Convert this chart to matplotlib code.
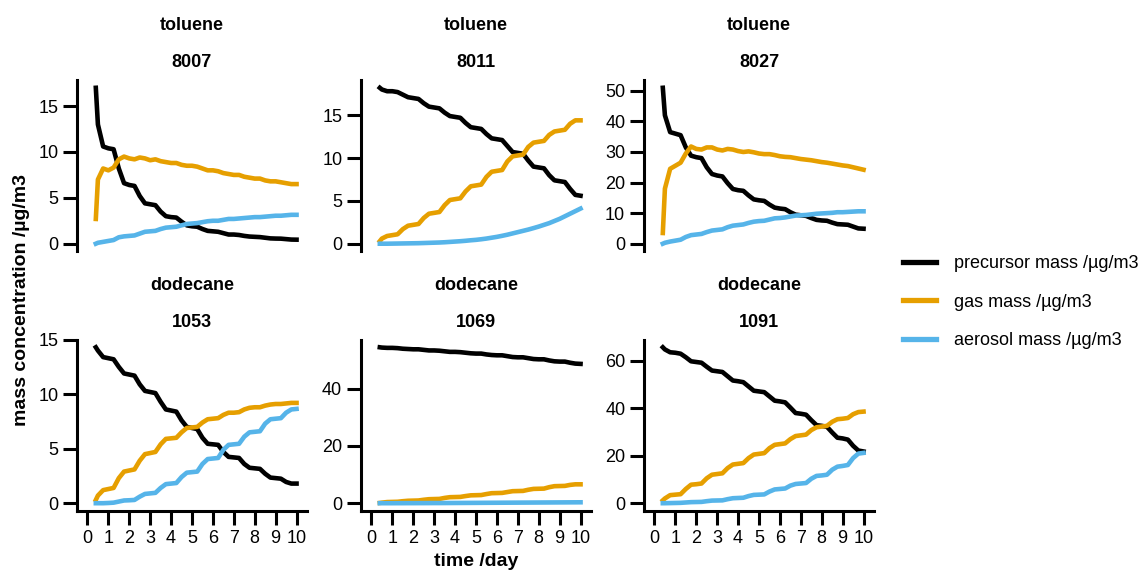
import numpy as np
import matplotlib
matplotlib.use("Agg")
from matplotlib import pyplot as plt
from matplotlib.lines import Line2D
from matplotlib.ticker import MultipleLocator

plt.rcParams["font.family"] = ["Liberation Sans", "DejaVu Sans"]

# time grid shared by every run: 0.4 d, then every 6 h from 0.5 d to 10 d
time_day = np.concatenate([[0.4], np.arange(0.5, 10.01, 0.25)])

compounds = ["toluene", "toluene", "toluene", "dodecane", "dodecane", "dodecane"]
run_ids = ["8007", "8011", "8027", "1053", "1069", "1091"]
series_labels = ["precursor mass /µg/m3", "gas mass /µg/m3", "aerosol mass /µg/m3"]

# toluene 8007
precursor_8007 = [17.0, 13.0, 10.6,
                  10.4, 10.3, 8.2, 6.6, 6.4, 6.3, 5.2, 4.4, 4.3, 4.2, 3.5, 3.0,
                  2.9, 2.85, 2.4, 2.0, 1.9, 1.85, 1.6, 1.4, 1.35, 1.3, 1.15, 1.0,
                  1.0, 0.95, 0.85, 0.78, 0.75, 0.72, 0.65, 0.58, 0.56, 0.55, 0.5, 0.45,
                  0.44]
gas_8007 = [2.7, 7.0, 8.2,
            8.0, 8.3, 9.2, 9.5, 9.3, 9.2, 9.4, 9.3, 9.1, 9.2, 9.0, 8.9,
            8.8, 8.8, 8.6, 8.5, 8.5, 8.4, 8.2, 8.0, 8.0, 7.9, 7.7, 7.6,
            7.5, 7.5, 7.3, 7.2, 7.1, 7.1, 6.9, 6.8, 6.8, 6.7, 6.6, 6.5,
            6.5]
aerosol_8007 = [0.0, 0.1, 0.2,
                0.3, 0.4, 0.7, 0.8, 0.85, 0.9, 1.1, 1.3, 1.35, 1.4, 1.6, 1.75,
                1.8, 1.85, 2.0, 2.15, 2.2, 2.25, 2.35, 2.45, 2.5, 2.5, 2.6, 2.7,
                2.7, 2.75, 2.8, 2.85, 2.9, 2.9, 2.95, 3.0, 3.05, 3.05, 3.1, 3.15,
                3.15]

# toluene 8011
precursor_8011 = [18.2, 18.0, 17.8,
                  17.8, 17.7, 17.4, 17.1, 17.0, 16.9, 16.4, 16.0, 15.9, 15.8, 15.3, 14.9,
                  14.8, 14.7, 14.1, 13.6, 13.5, 13.4, 12.8, 12.3, 12.2, 12.1, 11.4, 10.7,
                  10.6, 10.5, 9.7, 9.0, 8.9, 8.8, 8.0, 7.4, 7.3, 7.2, 6.4, 5.7,
                  5.6]
gas_8011 = [0.3, 0.6, 0.9,
            1.0, 1.1, 1.7, 2.1, 2.2, 2.3, 3.0, 3.5, 3.6, 3.7, 4.5, 5.1,
            5.2, 5.3, 6.1, 6.7, 6.8, 6.9, 7.8, 8.4, 8.5, 8.6, 9.6, 10.2,
            10.3, 10.4, 11.3, 11.8, 11.9, 12.0, 12.7, 13.1, 13.2, 13.3, 14.0, 14.4,
            14.4]
aerosol_8011 = [0.0, 0.0, 0.0,
                0.01, 0.02, 0.03, 0.04, 0.05, 0.06, 0.08, 0.1, 0.12, 0.14, 0.17, 0.21,
                0.25, 0.29, 0.34, 0.4, 0.45, 0.52, 0.6, 0.7, 0.8, 0.92, 1.05, 1.2,
                1.35, 1.5, 1.65, 1.82, 2.0, 2.2, 2.4, 2.65, 2.9, 3.2, 3.5, 3.8,
                4.1]

# toluene 8027
precursor_8027 = [51.0, 42.0, 36.5,
                  36.0, 35.5, 31.5, 28.8, 28.3, 28.0, 25.0, 22.8, 22.3, 22.0, 19.8, 17.9,
                  17.5, 17.3, 15.8, 14.5, 14.2, 14.0, 12.8, 11.8, 11.5, 11.3, 10.3, 9.5,
                  9.3, 9.1, 8.4, 7.8, 7.6, 7.5, 6.9, 6.4, 6.3, 6.2, 5.6, 5.0,
                  4.9]
gas_8027 = [3.5, 18.0, 24.5,
            25.5, 26.5, 29.5, 31.8, 31.0, 30.8, 31.5, 31.5, 30.8, 30.5, 31.0, 30.8,
            30.3, 30.0, 30.2, 29.9, 29.5, 29.3, 29.3, 29.0, 28.6, 28.4, 28.3, 28.0,
            27.7, 27.5, 27.3, 27.0, 26.7, 26.5, 26.2, 25.9, 25.6, 25.4, 25.0, 24.6,
            24.2]
aerosol_8027 = [0.0, 0.3, 0.7,
                1.0, 1.3, 2.2, 2.8, 3.0, 3.2, 3.8, 4.3, 4.5, 4.7, 5.4, 5.9,
                6.1, 6.3, 6.8, 7.2, 7.4, 7.5, 7.9, 8.3, 8.4, 8.6, 8.9, 9.2,
                9.3, 9.4, 9.6, 9.8, 9.9, 10.0, 10.1, 10.3, 10.3, 10.4, 10.5, 10.6,
                10.6]

# dodecane 1053
precursor_1053 = [14.3, 14.0, 13.4,
                  13.3, 13.2, 12.5, 11.9, 11.8, 11.7, 10.9, 10.3, 10.2, 10.1, 9.3, 8.6,
                  8.5, 8.4, 7.6, 7.0, 6.9, 6.8, 6.0, 5.45, 5.4, 5.35, 4.7, 4.25,
                  4.2, 4.15, 3.6, 3.25, 3.2, 3.15, 2.7, 2.35, 2.3, 2.25, 1.95, 1.8,
                  1.8]
gas_1053 = [0.3, 0.7, 1.2,
            1.3, 1.4, 2.3, 2.9, 3.0, 3.1, 3.9, 4.5, 4.6, 4.7, 5.4, 5.9,
            5.95, 6.0, 6.5, 6.9, 6.95, 7.0, 7.4, 7.7, 7.75, 7.8, 8.1, 8.3,
            8.3, 8.35, 8.6, 8.75, 8.8, 8.8, 8.95, 9.05, 9.1, 9.1, 9.15, 9.2,
            9.2]
aerosol_1053 = [0.0, 0.0, 0.0,
                0.02, 0.05, 0.15, 0.25, 0.27, 0.3, 0.6, 0.85, 0.9, 0.95, 1.4, 1.75,
                1.8, 1.85, 2.4, 2.8, 2.85, 2.9, 3.6, 4.05, 4.1, 4.15, 4.9, 5.35,
                5.4, 5.45, 6.1, 6.5, 6.55, 6.6, 7.3, 7.7, 7.75, 7.8, 8.3, 8.6,
                8.65]

# dodecane 1069
precursor_1069 = [54.5, 54.4, 54.3,
                  54.3, 54.2, 54.0, 53.9, 53.8, 53.8, 53.6, 53.4, 53.4, 53.3, 53.1, 52.9,
                  52.9, 52.8, 52.6, 52.4, 52.3, 52.3, 52.0, 51.8, 51.7, 51.7, 51.4, 51.1,
                  51.0, 51.0, 50.7, 50.4, 50.3, 50.3, 49.9, 49.6, 49.5, 49.5, 49.1, 48.8,
                  48.7]
gas_1069 = [0.1, 0.2, 0.4,
            0.45, 0.5, 0.7, 0.85, 0.9, 0.95, 1.2, 1.4, 1.45, 1.5, 1.85, 2.1,
            2.15, 2.2, 2.5, 2.75, 2.8, 2.85, 3.2, 3.5, 3.55, 3.6, 3.9, 4.2,
            4.25, 4.3, 4.7, 5.0, 5.05, 5.1, 5.6, 5.95, 6.0, 6.05, 6.4, 6.6,
            6.6]
aerosol_1069 = [0.0, 0.0, 0.0,
                0.0, 0.01, 0.01, 0.02, 0.02, 0.03, 0.03, 0.04, 0.05, 0.05, 0.06, 0.07,
                0.08, 0.09, 0.1, 0.11, 0.12, 0.13, 0.14, 0.15, 0.16, 0.17, 0.18, 0.19,
                0.2, 0.21, 0.22, 0.23, 0.24, 0.25, 0.26, 0.27, 0.28, 0.29, 0.3, 0.31,
                0.32]

# dodecane 1091
precursor_1091 = [65.7, 64.8, 63.6,
                  63.4, 63.0, 61.5, 59.8, 59.5, 59.2, 57.5, 55.9, 55.6, 55.3, 53.5, 51.7,
                  51.4, 51.0, 49.2, 47.4, 47.1, 46.8, 45.0, 43.2, 42.9, 42.5, 40.3, 38.0,
                  37.7, 37.3, 35.0, 32.9, 32.6, 32.2, 29.8, 27.6, 27.3, 26.8, 24.2, 22.2,
                  21.8]
gas_1091 = [1.2, 2.0, 3.4,
            3.6, 3.8, 6.0, 7.8, 8.0, 8.3, 10.5, 12.0, 12.3, 12.6, 14.8, 16.3,
            16.6, 16.9, 19.0, 20.5, 20.8, 21.1, 23.2, 24.6, 24.9, 25.2, 27.0, 28.3,
            28.6, 28.9, 30.8, 32.0, 32.3, 32.6, 34.3, 35.4, 35.6, 35.9, 37.5, 38.4,
            38.6]
aerosol_1091 = [0.0, 0.0, 0.05,
                0.1, 0.15, 0.3, 0.45, 0.5, 0.55, 0.85, 1.1, 1.15, 1.2, 1.7, 2.1,
                2.2, 2.3, 3.0, 3.5, 3.6, 3.7, 4.9, 5.8, 6.0, 6.2, 7.4, 8.1,
                8.3, 8.5, 10.3, 11.5, 11.7, 12.0, 14.1, 15.4, 15.7, 16.1, 19.0, 20.9,
                21.2]

precursor = [precursor_8007, precursor_8011, precursor_8027,
             precursor_1053, precursor_1069, precursor_1091]
gas = [gas_8007, gas_8011, gas_8027, gas_1053, gas_1069, gas_1091]
aerosol = [aerosol_8007, aerosol_8011, aerosol_8027,
           aerosol_1053, aerosol_1069, aerosol_1091]

colors = ["#000000", "#E69F00", "#56B4E9"]
y_tick_step = [5, 5, 10, 5, 20, 20]

W, H = 1147, 570
# panel boxes in pixels: left, top, width, height
panel_left = [77, 361, 644]
panel_top = [80, 339.5]
panel_w, panel_h = 230, 171.5

LW = 3.3
AXLW = 2.2
FS = 13


def style_axes(ax, bottom_row, step):
    for side in ["top", "right"]:
        ax.spines[side].set_visible(False)
    ax.spines["left"].set_linewidth(AXLW)
    ax.spines["bottom"].set_linewidth(AXLW)
    ax.tick_params(axis="both", width=AXLW, length=10, labelsize=FS,
                   color="black", pad=3.5)
    ax.yaxis.set_major_locator(MultipleLocator(step))
    ax.set_xlim(-0.5, 10.5)
    if bottom_row:
        ax.xaxis.set_major_locator(MultipleLocator(1))
    else:
        ax.spines["bottom"].set_visible(False)
        ax.tick_params(axis="x", bottom=False, labelbottom=False)


def draw_panel(fig, i):
    row, col = divmod(i, 3)
    left = panel_left[col] / W
    bottom = 1 - (panel_top[row] + panel_h) / H
    ax = fig.add_axes([left, bottom, panel_w / W, panel_h / H])

    for values, color in zip([precursor[i], gas[i], aerosol[i]], colors):
        ax.plot(time_day, values, color=color, lw=LW, solid_joinstyle="round")
    ax.margins(y=0.05)
    style_axes(ax, row == 1, y_tick_step[i])

    # two-line strip label: compound on top, run id below
    ax.annotate(compounds[i], (0.5, 1), xycoords="axes fraction",
                xytext=(0, 39), textcoords="offset points",
                ha="center", va="center", fontsize=FS, fontweight="bold")
    ax.annotate(run_ids[i], (0.5, 1), xycoords="axes fraction",
                xytext=(0, 12.5), textcoords="offset points",
                ha="center", va="center", fontsize=FS, fontweight="bold")
    return ax


def main():
    fig = plt.figure(figsize=(W / 100, H / 100), dpi=100)
    for i in range(len(run_ids)):
        draw_panel(fig, i)

    fig.text(22 / W, 1 - 300 / H, "mass concentration /µg/m3", rotation=90,
             ha="center", va="center", fontsize=14, fontweight="bold")
    fig.text(476 / W, 1 - 561 / H, "time /day",
             ha="center", va="center", fontsize=14, fontweight="bold")

    handles = [Line2D([], [], color=c, lw=LW + 0.5) for c in colors]
    fig.legend(handles, series_labels, loc="center left",
               bbox_to_anchor=(903 / W, 1 - 302 / H), frameon=False,
               fontsize=FS, handlelength=1.85, handletextpad=0.95,
               labelspacing=1.2, borderpad=0, borderaxespad=0)

    fig.savefig("out.png", dpi=100)


if __name__ == "__main__":
    main()
